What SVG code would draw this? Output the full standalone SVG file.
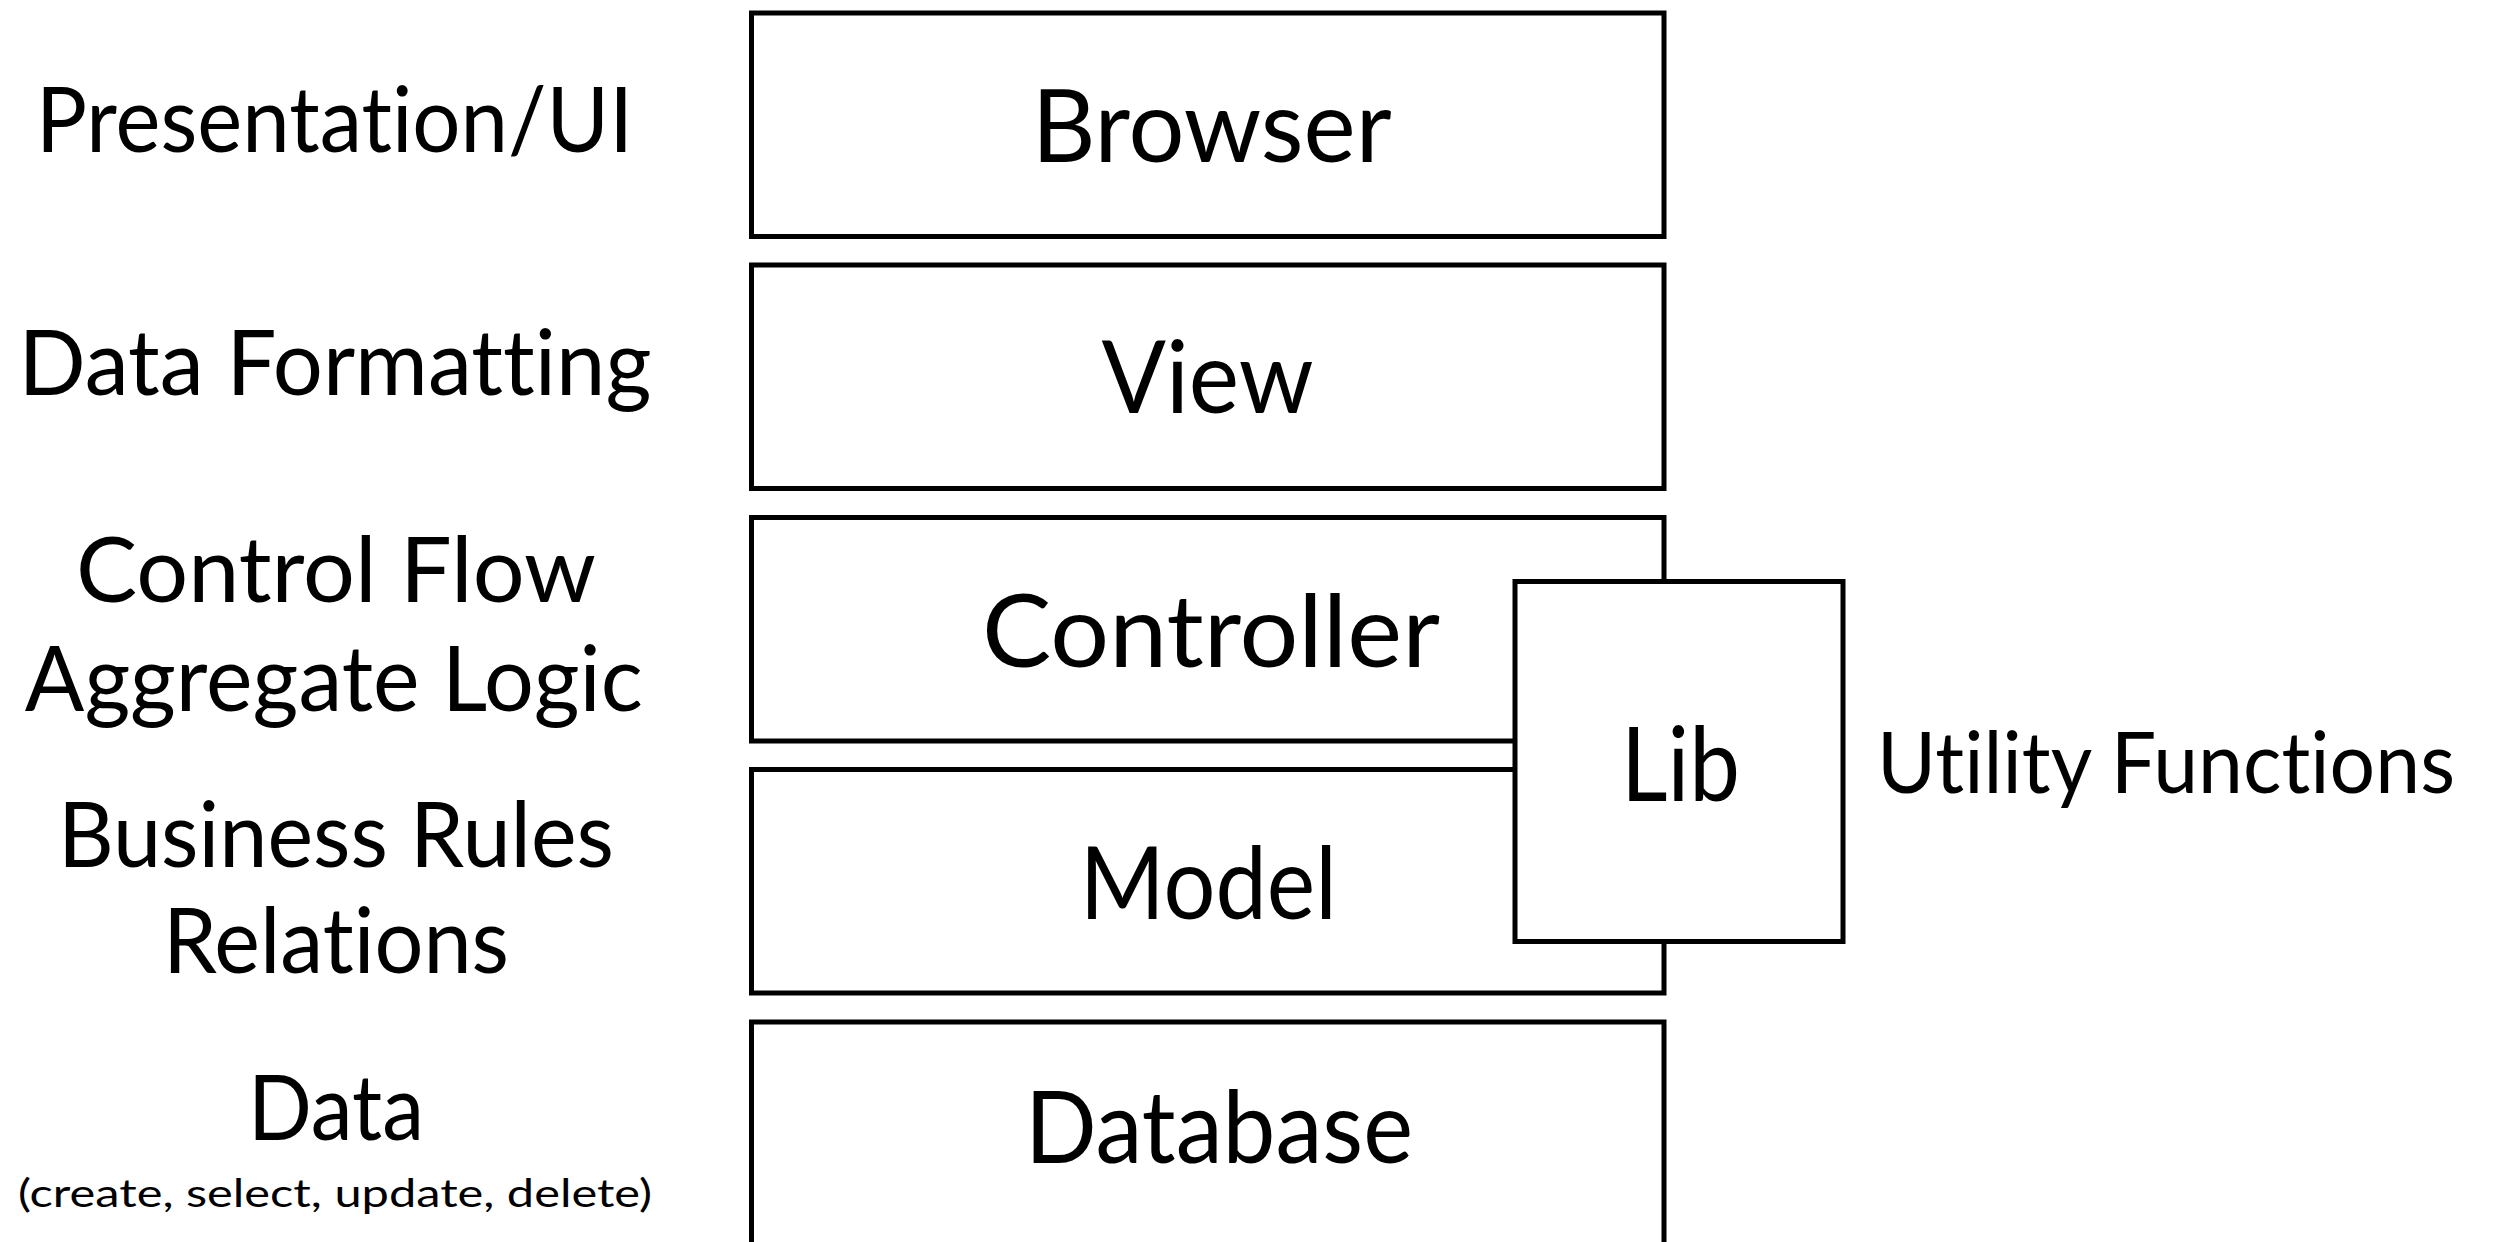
<svg xmlns="http://www.w3.org/2000/svg" width="2511" height="1242" viewBox="0 0 2511 1242">
<style>
.box{fill:#fff;stroke:#000;stroke-width:5}
.t{font-family:Lato,"Liberation Sans",sans-serif;fill:#000;text-anchor:middle;font-variant-ligatures:none}
.big{font-size:101px}
.lbl{font-size:92px}
</style>
<rect width="2511" height="1242" fill="#fff"/>
<g id="browser"><rect class="box" x="751.5" y="13" width="912.5" height="223.5"/><text class="t big" x="1211.7" y="161.7" textLength="360" lengthAdjust="spacingAndGlyphs">Browser</text></g>
<g id="view"><rect class="box" x="751.5" y="265" width="912.5" height="223.5"/><text class="t big" x="1207.5" y="413.3" textLength="212" lengthAdjust="spacingAndGlyphs">View</text></g>
<g id="controller"><rect class="box" x="751.5" y="517.5" width="912.5" height="223.5"/><text class="t big" x="1211" y="667.3" textLength="458" lengthAdjust="spacingAndGlyphs">Controller</text></g>
<g id="model"><rect class="box" x="751.5" y="769.5" width="912.5" height="223.5"/><text class="t big" x="1208.3" y="919.3" textLength="257" lengthAdjust="spacingAndGlyphs">Model</text></g>
<g id="database"><rect class="box" x="751.5" y="1022" width="912.5" height="260"/><text class="t big" x="1219" y="1163.3" textLength="388" lengthAdjust="spacingAndGlyphs">Database</text></g>
<g id="lib"><rect class="box" x="1515" y="581.5" width="328" height="360"/><text class="t" style="font-size:102px" x="1680.5" y="800.7" textLength="119" lengthAdjust="spacingAndGlyphs">Lib</text></g>
<g id="utility-label"><text class="t" style="font-size:86px;text-anchor:start" x="1877" y="793" textLength="578" lengthAdjust="spacingAndGlyphs">Utility Functions</text></g>
<g id="presentation-label"><text class="t lbl" x="334.5" y="151.7" textLength="597" lengthAdjust="spacingAndGlyphs">Presentation/UI</text></g>
<g id="formatting-label"><text class="t lbl" x="335" y="395" textLength="633" lengthAdjust="spacingAndGlyphs">Data Formatting</text></g>
<g id="control-label"><text class="t lbl" x="336" y="601.7" textLength="520" lengthAdjust="spacingAndGlyphs">Control Flow</text><text class="t lbl" x="333.8" y="710.7" textLength="618" lengthAdjust="spacingAndGlyphs">Aggregate Logic</text></g>
<g id="business-label"><text class="t lbl" x="336" y="866.7" textLength="556" lengthAdjust="spacingAndGlyphs">Business Rules</text><text class="t lbl" x="336" y="973.3" textLength="346" lengthAdjust="spacingAndGlyphs">Relations</text></g>
<g id="data-label"><text class="t lbl" x="336" y="1140" textLength="176" lengthAdjust="spacingAndGlyphs">Data</text><text class="t" style="font-size:38px" x="335" y="1207" textLength="634" lengthAdjust="spacingAndGlyphs">(create, select, update, delete)</text></g>
<g id="connectors"></g>
</svg>
